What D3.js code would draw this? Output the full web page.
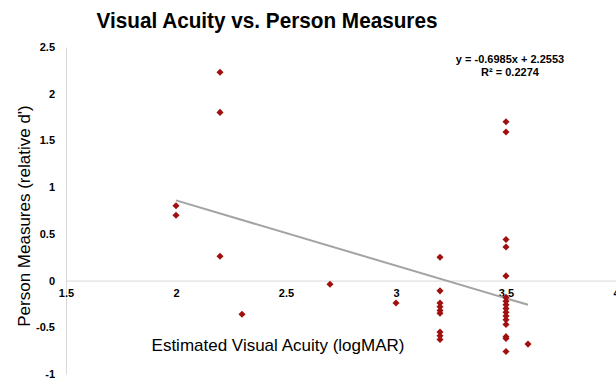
<!DOCTYPE html>
<html>
  <head>
    <meta charset="utf-8" />
    <style>
      body { margin: 0; background: #fff; }
      svg { display: block; font-family: "Liberation Sans", Arial, sans-serif; }
    </style>
  </head>
  <body>
    <svg class="chart"></svg>

    <script src="https://d3js.org/d3.v7.min.js"></script>
    <script>
      // data
      var acuity = [2, 2, 2.2, 2.2, 2.2, 2.3, 2.7, 3.0,
        3.2, 3.2, 3.2, 3.2, 3.2, 3.2, 3.2, 3.2, 3.2,
        3.5, 3.5, 3.5, 3.5, 3.5, 3.5, 3.5, 3.5, 3.5, 3.5, 3.5, 3.5, 3.5, 3.5, 3.5, 3.5,
        3.6];
      var measures = [0.8, 0.7, 2.23, 1.8, 0.26, -0.36, -0.04, -0.24,
        0.25, -0.11, -0.24, -0.28, -0.32, -0.35, -0.55, -0.59, -0.63,
        1.7, 1.59, 0.44, 0.36, 0.05, -0.18, -0.22, -0.26, -0.3, -0.34, -0.38, -0.42, -0.47, -0.6, -0.62, -0.76,
        -0.68];
      var xTicks = [1.5, 2, 2.5, 3, 3.5, 4];
      var yTicks = [-1, -0.5, 0, 0.5, 1, 1.5, 2, 2.5];
      var slope = -0.6985,
        intercept = 2.2553,
        rSquared = 0.2274;
      var trendRange = [2, 3.6];

      var width = 616,
        height = 380;

      var svg = d3.select(".chart").attr("width", width).attr("height", height);

      var x = d3.scaleLinear().domain([1.5, 4]).range([66, 616]);
      var y = d3.scaleLinear().domain([-1, 2.5]).range([374, 47]);

      var fmt = function (d) { return String(d); };

      // y axis
      var yAxis = svg.append("g")
        .attr("transform", "translate(" + x(1.5) + ",0)")
        .call(d3.axisLeft(y).tickValues(yTicks).tickSize(0).tickPadding(11).tickFormat(fmt));

      // x axis crosses at zero
      var xAxis = svg.append("g")
        .attr("transform", "translate(0," + y(0) + ")")
        .call(d3.axisBottom(x).tickValues(xTicks).tickSize(0).tickPadding(9).tickFormat(fmt));

      [xAxis, yAxis].forEach(function (g) {
        g.select(".domain").attr("stroke", "#d9d9d9").attr("stroke-width", 1);
        g.selectAll("text")
          .attr("fill", "#000")
          .style("font-size", "11px")
          .style("font-weight", "bold")
          .style("font-family", "'Liberation Sans', Arial, sans-serif");
      });

      // trend line
      svg.append("line")
        .attr("x1", x(trendRange[0]))
        .attr("y1", y(slope * trendRange[0] + intercept))
        .attr("x2", x(trendRange[1]))
        .attr("y2", y(slope * trendRange[1] + intercept))
        .attr("stroke", "#a3a3a3")
        .attr("stroke-width", 2);

      // points
      var diamond = d3.symbol().type(d3.symbolDiamond2).size(32);
      svg.append("g")
        .selectAll("path")
        .data(d3.range(acuity.length))
        .enter()
        .append("path")
        .attr("transform", function (i) {
          return "translate(" + x(acuity[i]) + "," + y(measures[i]) + ")";
        })
        .attr("d", diamond)
        .attr("fill", "#a01010");

      // title
      svg.append("text")
        .attr("x", 267)
        .attr("y", 28)
        .attr("text-anchor", "middle")
        .attr("textLength", 341)
        .attr("lengthAdjust", "spacingAndGlyphs")
        .style("font-size", "22px")
        .style("font-weight", "bold")
        .text("Visual Acuity vs. Person Measures");

      // equation
      var eq = svg.append("g").attr("text-anchor", "middle")
        .style("font-size", "11px").style("font-weight", "bold");
      eq.append("text").attr("x", 510).attr("y", 63)
        .text("y = " + slope + "x + " + intercept);
      eq.append("text").attr("x", 510).attr("y", 76)
        .text("R\u00b2 = " + rSquared);

      // axis titles
      svg.append("text")
        .attr("x", 278)
        .attr("y", 351)
        .attr("text-anchor", "middle")
        .style("font-size", "17px")
        .text("Estimated Visual Acuity (logMAR)");

      svg.append("text")
        .attr("transform", "translate(30,216) rotate(-90)")
        .attr("text-anchor", "middle")
        .style("font-size", "17px")
        .text("Person Measures (relative d')");
    </script>
  </body>
</html>
